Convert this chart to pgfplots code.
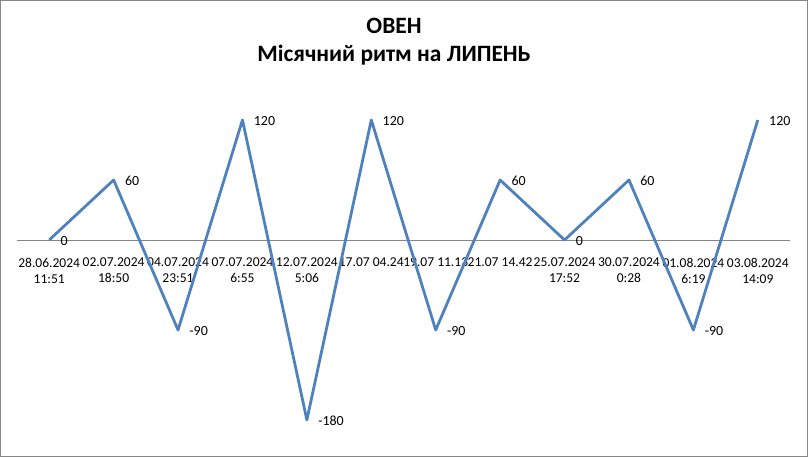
\documentclass[border=0pt]{standalone}
\usepackage{fontspec}
\setmainfont{Carlito}
\usepackage{pgfplots}
\pgfplotsset{compat=1.18}
\definecolor{excelblue}{HTML}{4F81BD}
\definecolor{framegray}{HTML}{868686}

\begin{document}
\begin{tikzpicture}[x=1bp,y=1bp]
\useasboundingbox (0,0) rectangle (808,457);
\draw[framegray, line width=1bp] (0.5,0.5) rectangle (807.5,456.5);
\node[align=center, font=\fontsize{23.5}{28}\selectfont\bfseries] at (394,415)
  {ОВЕН\\Місячний ритм на ЛИПЕНЬ};
\begin{axis}[
    scale only axis,
    width=773bp, height=350bp,
    at={(17bp,17bp)}, anchor=south west,
    xmin=-0.5, xmax=11.5, ymin=-200, ymax=150,
    axis x line=middle, axis y line=none,
    x axis line style={-, framegray, line width=0.75bp},
    major tick length=0pt,
    ytick=\empty,
    xtick={0,...,11},
    xticklabels={{28.06.2024\\11:51},{02.07.2024\\18:50},{04.07.2024\\23:51},
      {07.07.2024\\6:55},{12.07.2024\\5:06},{17.07 04.24},{19.07 11.13},
      {21.07 14.42},{25.07.2024\\17:52},{30.07.2024\\0:28},
      {01.08.2024\\6:19},{03.08.2024\\14:09}},
    xticklabel style={align=center, font=\fontsize{13.6}{16}\selectfont,
      anchor=north, yshift=-18bp, inner sep=0pt},
    /pgf/number format/assume math mode=true,
    clip=false,
]
\addplot[excelblue, line width=2.8bp, line join=round,
    nodes near coords,
    every node near coord/.style={anchor=west, xshift=10bp, yshift=-1bp,
      inner sep=0pt, text=black, font=\fontsize{14}{16}\selectfont}]
  coordinates {(0,0) (1,60) (2,-90) (3,120) (4,-180) (5,120) (6,-90)
    (7,60) (8,0) (9,60) (10,-90) (11,120)};
\end{axis}
\end{tikzpicture}
\end{document}
